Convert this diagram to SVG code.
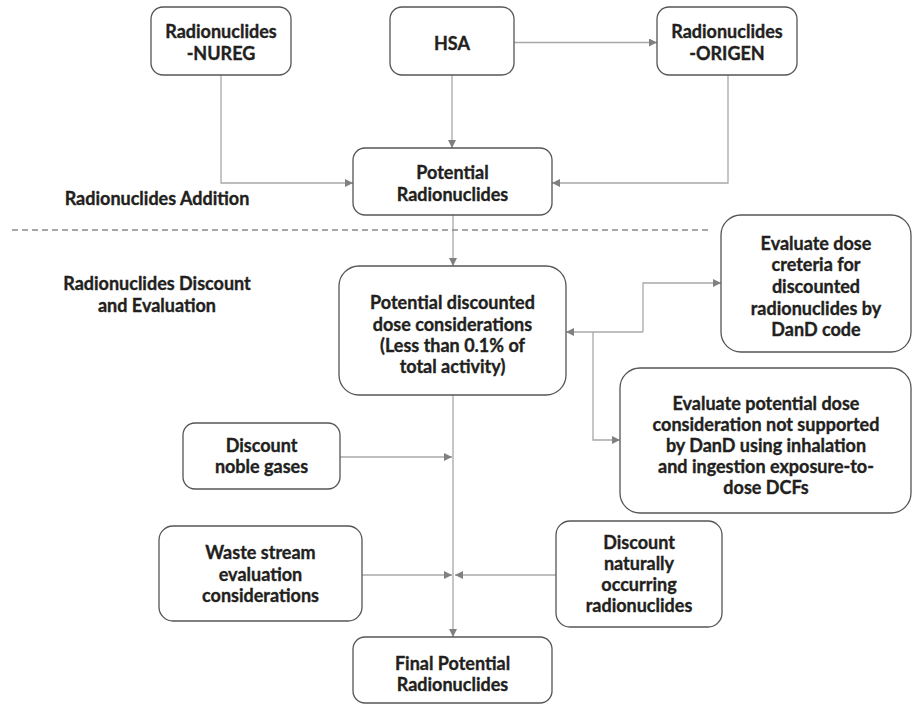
<svg xmlns="http://www.w3.org/2000/svg" width="912" height="705" viewBox="0 0 912 705">
<style>
.box{fill:#fff;stroke:#555;stroke-width:1.3}
.t{font-family:Lato,"Open Sans","Liberation Sans",sans-serif;font-weight:700;font-size:18px;fill:#231f20;stroke:#231f20;stroke-width:0.35;text-anchor:middle}
.c{fill:none;stroke:#a8a8a8;stroke-width:1.3}
.dash{fill:none;stroke:#8a8a8a;stroke-width:1.3;stroke-dasharray:6 4}
</style>
<defs>
<marker id="ah" viewBox="0 0 10 10" refX="10" refY="5" markerWidth="9" markerHeight="8" markerUnits="userSpaceOnUse" orient="auto">
<path d="M0,0 L10,5 L0,10 z" fill="#808080"/>
</marker>
</defs>
<rect width="912" height="705" fill="#fff"/>

<g id="connectors">
<path class="c" d="M221,75 V183 H353" marker-end="url(#ah)"/>
<path class="c" d="M452,75 V148" marker-end="url(#ah)"/>
<path class="c" d="M514,42.5 H657" marker-end="url(#ah)"/>
<path class="c" d="M728,75 V183 H552" marker-end="url(#ah)"/>
<path class="c" d="M453,215 V266" marker-end="url(#ah)"/>
<path class="c" d="M643,332 V283 H721" marker-end="url(#ah)"/>
<path class="c" d="M643,332 H566" marker-end="url(#ah)"/>
<path class="c" d="M593,332 V440 H620" marker-end="url(#ah)"/>
<path class="c" d="M453,395 V637" marker-end="url(#ah)"/>
<path class="c" d="M340,457 H452" marker-end="url(#ah)"/>
<path class="c" d="M362,575 H452" marker-end="url(#ah)"/>
<path class="c" d="M556,575 H455" marker-end="url(#ah)"/>
<path class="dash" d="M12,230 H708"/>
</g>

<g id="label-addition"><text class="t" x="157" y="205">Radionuclides Addition</text></g>
<g id="label-discount"><text class="t" x="157" y="290">Radionuclides Discount</text><text class="t" x="157" y="312">and Evaluation</text></g>

<g id="nureg"><rect class="box" x="151" y="7" width="140" height="68" rx="12"/>
<text class="t" x="221" y="38">Radionuclides</text><text class="t" x="221" y="60">-NUREG</text></g>

<g id="hsa"><rect class="box" x="390" y="7" width="124" height="68" rx="12"/>
<text class="t" x="452" y="50">HSA</text></g>

<g id="origen"><rect class="box" x="657" y="7" width="140" height="68" rx="12"/>
<text class="t" x="727" y="38">Radionuclides</text><text class="t" x="727" y="60">-ORIGEN</text></g>

<g id="potential"><rect class="box" x="353" y="148" width="199" height="67" rx="12"/>
<text class="t" x="452.5" y="179">Potential</text><text class="t" x="452.5" y="201">Radionuclides</text></g>

<g id="discounted"><rect class="box" x="339" y="266" width="227" height="129" rx="20"/>
<text class="t" x="452.5" y="309">Potential discounted</text>
<text class="t" x="452.5" y="331">dose considerations</text>
<text class="t" x="452.5" y="352">(Less than 0.1% of</text>
<text class="t" x="452.5" y="373">total activity)</text></g>

<g id="dand"><rect class="box" x="721" y="215" width="190" height="137" rx="20"/>
<text class="t" x="816" y="250">Evaluate dose</text>
<text class="t" x="816" y="271">creteria for</text>
<text class="t" x="816" y="293">discounted</text>
<text class="t" x="816" y="315">radionuclides by</text>
<text class="t" x="816" y="336">DanD code</text></g>

<g id="notsupported"><rect class="box" x="620" y="368" width="291" height="145" rx="20"/>
<text class="t" x="766" y="410">Evaluate potential dose</text>
<text class="t" x="766" y="431">consideration not supported</text>
<text class="t" x="766" y="452">by DanD using inhalation</text>
<text class="t" x="766" y="473">and ingestion exposure-to-</text>
<text class="t" x="766" y="494">dose DCFs</text></g>

<g id="noble"><rect class="box" x="183" y="423" width="157" height="66" rx="12"/>
<text class="t" x="261.5" y="452">Discount</text><text class="t" x="261.5" y="473">noble gases</text></g>

<g id="waste"><rect class="box" x="159" y="526" width="203" height="95" rx="14"/>
<text class="t" x="260.5" y="559">Waste stream</text><text class="t" x="260.5" y="581">evaluation</text><text class="t" x="260.5" y="602">considerations</text></g>

<g id="natural"><rect class="box" x="556" y="521" width="166" height="106" rx="14"/>
<text class="t" x="639" y="549">Discount</text><text class="t" x="639" y="570">naturally</text><text class="t" x="639" y="591">occurring</text><text class="t" x="639" y="612">radionuclides</text></g>

<g id="final"><rect class="box" x="353" y="637" width="199" height="66" rx="12"/>
<text class="t" x="452.5" y="670">Final Potential</text><text class="t" x="452.5" y="691">Radionuclides</text></g>
</svg>
